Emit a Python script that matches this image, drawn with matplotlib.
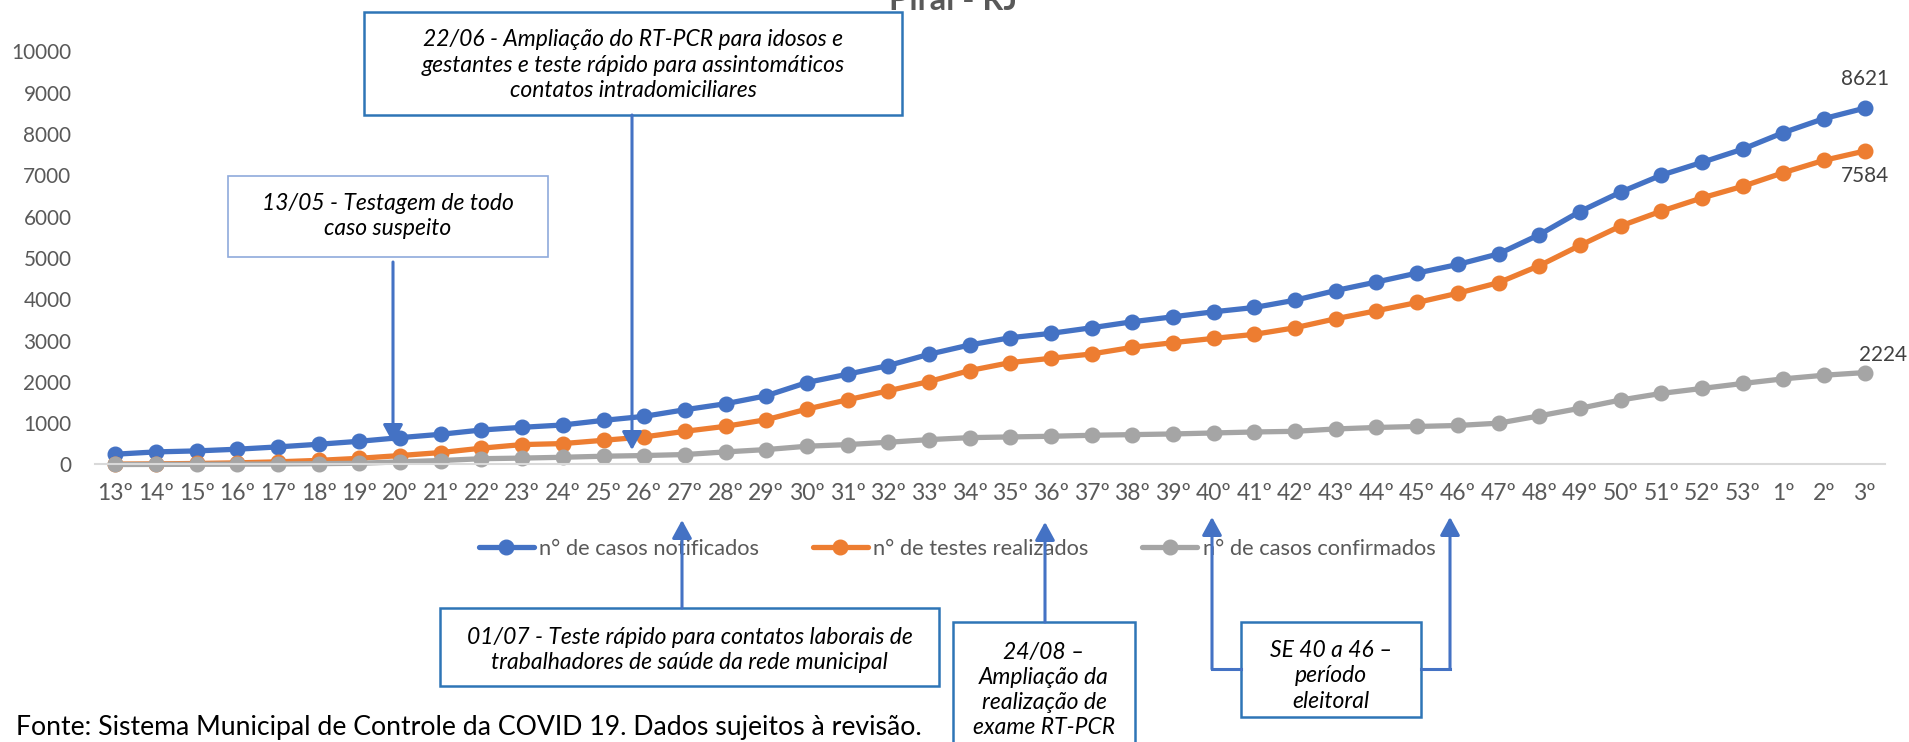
import matplotlib
matplotlib.use("Agg")
import matplotlib.pyplot as plt
from matplotlib.lines import Line2D
from matplotlib.patches import FancyArrowPatch, Rectangle, ArrowStyle

W, H = 1909, 742
FONT = ["Lato", "DejaVu Sans"]

weeks = [f"{n}º" for n in range(13, 54)] + ["1º", "2º", "3º"]

notificados = [249, 305, 329, 370, 426, 490, 562, 650, 731, 835,
               900, 956, 1068, 1165, 1325, 1470, 1663, 1984, 2185, 2394,
               2667, 2892, 3068, 3173, 3309, 3454, 3574, 3695, 3799, 3976,
               4210, 4416, 4632, 4840, 5096, 5560, 6120, 6590, 7000, 7310,
               7630, 8030, 8370, 8621]
testes = [10, 15, 25, 40, 65, 100, 150, 217, 289, 395,
          482, 506, 586, 667, 803, 924, 1084, 1341, 1566, 1783,
          2008, 2273, 2466, 2570, 2675, 2835, 2948, 3052, 3149, 3309,
          3527, 3720, 3920, 4144, 4400, 4810, 5300, 5770, 6130, 6450,
          6730, 7060, 7360, 7584]
confirmados = [0, 2, 5, 8, 12, 20, 30, 64, 96, 140,
               155, 175, 200, 217, 241, 305, 361, 442, 482, 538,
               602, 650, 667, 683, 707, 723, 739, 763, 787, 803,
               860, 896, 920, 944, 1000, 1176, 1360, 1560, 1720, 1840,
               1960, 2072, 2160, 2224]

series_names = ["n° de casos notificados", "n° de testes realizados", "n° de casos confirmados"]
series_colors = ["#4472C4", "#ED7D31", "#A5A5A5"]

title = "Piraí - RJ"
source = "Fonte: Sistema Municipal de Controle da COVID 19. Dados sujeitos à revisão."

# callouts: text, box (x0, y0, x1, y1) in pixels from top-left, edge colour, text centre
callouts = [
    ("22/06 - Ampliação do RT-PCR para idosos e\ngestantes e teste rápido para assintomáticos\ncontatos intradomiciliares",
     (364, 12, 902, 115), "#2E75B6", (633, 65)),
    ("13/05 - Testagem de todo\ncaso suspeito", (228, 176, 548, 257), "#8FAADC", (388, 216)),
    ("01/07 - Teste rápido para contatos laborais de\ntrabalhadores de saúde da rede municipal",
     (440, 608, 939, 686), "#2E75B6", (689.5, 650)),
    ("24/08 –\nAmpliação da\nrealização de\nexame RT-PCR", (953, 622, 1135, 750), "#2E75B6", (1044, 690)),
    ("SE 40 a 46 –\nperíodo\neleitoral", (1241, 622, 1421, 717), "#2E75B6", (1331, 676)),
]
# arrows as pixel polylines, last point is the tip
arrows = [
    [(393, 262), (393, 443)],
    [(632, 115), (632, 450)],
    [(682, 608), (682, 520)],
    [(1045, 622), (1045, 522)],
    [(1241, 669), (1212, 669), (1212, 517)],
    [(1421, 669), (1450, 669), (1450, 517)],
]


def fp(x, y):
    return x / W, 1 - y / H


fig = plt.figure(figsize=(W / 100, H / 100), dpi=100)
renderer = fig.canvas.get_renderer()


def fit(text, width_px, **kw):
    t = fig.text(0, 0, text, fontsize=10, **kw)
    w = t.get_window_extent(renderer).width
    t.remove()
    return 10 * width_px / w


tick_fs = fit("10000", 60, family=FONT)
leg_fs = fit(series_names[0], 221, family=FONT)
src_fs = fit(source, 906, family=FONT)
box_fs = fit("22/06 - Ampliação do RT-PCR para idosos e", 419, family=FONT, style="italic")
title_fs = fit(title, 128, family=FONT, weight="bold")

left, right = 95, 1885
y0, y10k = 464.5, 51.2
ax = fig.add_axes([left / W, 1 - y0 / H, (right - left) / W, (y0 - y10k) / H])

x = list(range(len(weeks)))
lines = []
for vals, name, col in zip([notificados, testes, confirmados], series_names, series_colors):
    (ln,) = ax.plot(x, vals, color=col, lw=3.8, marker="o", ms=10.5, label=name,
                    solid_capstyle="round", clip_on=False)
    lines.append(ln)

ax.set_xlim(-0.5, len(weeks) - 0.5)
ax.set_ylim(0, 10000)
ax.set_xticks(x)
ax.set_xticklabels(weeks, family=FONT, fontsize=tick_fs * 1.1, color="#595959")
yt = list(range(0, 10001, 1000))
ax.set_yticks(yt)
ax.set_yticklabels([str(v) for v in yt], family=FONT, fontsize=tick_fs, color="#595959")
ax.tick_params(axis="y", length=0, pad=17)
ax.tick_params(axis="x", length=0, pad=13)
for s in ["top", "right", "left"]:
    ax.spines[s].set_visible(False)
ax.spines["bottom"].set_color("#D9D9D9")
ax.spines["bottom"].set_linewidth(1.5)
ax.patch.set_alpha(0)

# end-of-series data labels
last = len(weeks) - 1
lab_kw = dict(textcoords="offset points", family=FONT, fontsize=tick_fs, color="#404040",
              annotation_clip=False)
ax.annotate(str(notificados[last]), (last, notificados[last]), xytext=(0, 21), ha="center", va="center", **lab_kw)
ax.annotate(str(testes[last]), (last, testes[last]), xytext=(0, -18), ha="center", va="center", **lab_kw)
ax.annotate(str(confirmados[last]), (last, confirmados[last]), xytext=(-4, 12.5), ha="left", va="center", **lab_kw)

fig.legend(handles=lines, loc="center", bbox_to_anchor=fp(957, 549), ncol=3, frameon=False,
           prop={"family": FONT, "size": leg_fs}, labelcolor="#595959",
           handlelength=55 / (leg_fs * 100 / 72), handletextpad=0.25, columnspacing=2.45,
           borderpad=0, borderaxespad=0)

fig.text(*fp(953, 10), title, ha="center", va="baseline", family=FONT, weight="bold",
         fontsize=title_fs, color="#595959")
fig.text(*fp(16, 727), source, ha="left", va="center", family=FONT, fontsize=src_fs, color="black")

spacing = 28.5 / (box_fs * 100 / 72)
for text, (bx0, by0, bx1, by1), ec, (cx, cy) in callouts:
    lw = 1.2 if ec == "#8FAADC" else 1.8
    rect = Rectangle(fp(bx0, by1), (bx1 - bx0) / W, (by1 - by0) / H, transform=fig.transFigure,
                     facecolor="white", edgecolor=ec, lw=lw, zorder=7)
    fig.add_artist(rect)
    fig.text(*fp(cx, cy), text, ha="center", va="center", family=FONT, style="italic",
             fontsize=box_fs, color="black", linespacing=spacing, zorder=9)

style = ArrowStyle("-|>", head_length=0.55, head_width=0.3)
for pts in arrows:
    for (xa, ya), (xb, yb) in zip(pts[:-2], pts[1:-1]):
        fig.add_artist(Line2D([xa / W, xb / W], [1 - ya / H, 1 - yb / H], transform=fig.transFigure,
                              color="#4472C4", lw=2.2, zorder=8))
    arr = FancyArrowPatch(fp(*pts[-2]), fp(*pts[-1]), transform=fig.transFigure, arrowstyle=style,
                          mutation_scale=20, color="#4472C4", lw=2.2, shrinkA=0, shrinkB=0, zorder=8)
    fig.add_artist(arr)

fig.savefig("out.png", dpi=100)
